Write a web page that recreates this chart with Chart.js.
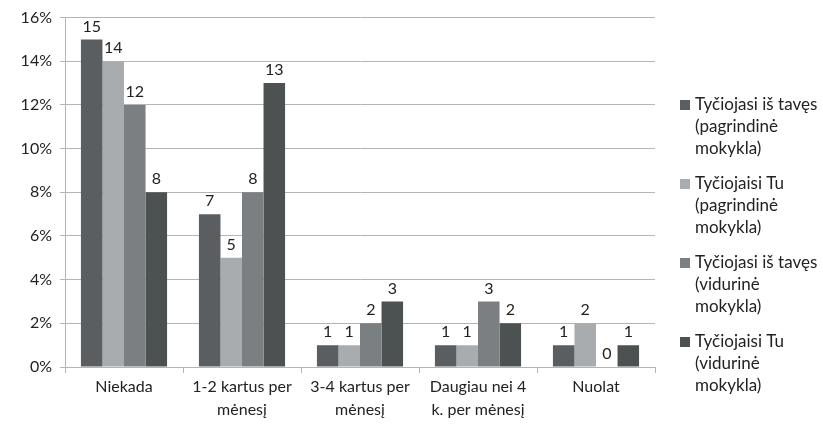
<!DOCTYPE html>
<html>
<head>
<meta charset="utf-8">
<script src="https://cdn.jsdelivr.net/npm/chart.js@4/dist/chart.umd.min.js"></script>
<style>
  html, body { margin: 0; padding: 0; background: #fff; }
  #wrap { width: 823px; height: 427px; position: relative; }
</style>
</head>
<body>
<div id="wrap"><canvas id="chart"></canvas></div>
<script>
const categories = [
    'Niekada',
    ['1-2 kartus per', 'mėnesį'],
    ['3-4 kartus per', 'mėnesį'],
    ['Daugiau nei 4', 'k. per mėnesį'],
    'Nuolat'
];
const seriesNames = [
    ['Tyčiojasi iš tavęs', '(pagrindinė', 'mokykla)'],
    ['Tyčiojaisi Tu', '(pagrindinė', 'mokykla)'],
    ['Tyčiojasi iš tavęs', '(vidurinė', 'mokykla)'],
    ['Tyčiojaisi Tu', '(vidurinė', 'mokykla)']
];
const bullyPrimary = [15, 7, 1, 1, 1];
const bullierPrimary = [14, 5, 1, 1, 2];
const bullySecondary = [12, 8, 2, 3, 0];
const bullierSecondary = [8, 13, 3, 2, 1];
const yTicks = [0, 2, 4, 6, 8, 10, 12, 14, 16];

const colors = ['#5a5e61', '#a9acae', '#7b7f82', '#4c5152'];
const FONT = 'Lato, "Open Sans", sans-serif';

const valueLabels = {
    id: 'valueLabels',
    afterDatasetsDraw(chart) {
        const ctx = chart.ctx;
        ctx.save();
        ctx.font = '16px ' + FONT;
        ctx.fillStyle = '#222';
        ctx.textAlign = 'center';
        ctx.textBaseline = 'bottom';
        chart.data.datasets.forEach((ds, i) => {
            chart.getDatasetMeta(i).data.forEach((bar, j) => {
                ctx.fillText(String(ds.data[j]), bar.x, bar.y - 5);
            });
        });
        ctx.restore();
    }
};

const sideLegend = {
    id: 'sideLegend',
    afterDraw(chart) {
        const ctx = chart.ctx;
        ctx.save();
        ctx.font = '17px ' + FONT;
        ctx.textBaseline = 'middle';
        ctx.textAlign = 'left';
        let y = 105;
        chart.data.datasets.forEach((ds, i) => {
            ctx.fillStyle = ds.backgroundColor;
            ctx.fillRect(680, y - 5, 10, 10);
            ctx.fillStyle = '#222';
            seriesNames[i].forEach((line, k) => {
                ctx.fillText(line, 695, y + k * 22);
            });
            y += 79;
        });
        ctx.restore();
    }
};

new Chart(document.getElementById('chart').getContext('2d'), {
    type: 'bar',
    data: {
        labels: categories,
        datasets: [bullyPrimary, bullierPrimary, bullySecondary, bullierSecondary].map((d, i) => ({
            label: seriesNames[i].join(' '),
            data: d,
            backgroundColor: colors[i],
            borderWidth: 0,
            categoryPercentage: 0.73,
            barPercentage: 1
        }))
    },
    options: {
        responsive: true,
        maintainAspectRatio: false,
        animation: false,
        layout: { padding: { top: 17, right: 168, left: 0, bottom: 0 } },
        scales: {
            x: {
                grid: { drawOnChartArea: false, color: '#b4b4b4', tickLength: 6, offset: true },
                border: { color: '#b4b4b4' },
                ticks: { color: '#222', font: { family: FONT, size: 16, lineHeight: 1.4 }, maxRotation: 0, autoSkip: false, padding: 3 },
                afterFit(scale) { scale.height = 60; }
            },
            y: {
                min: 0,
                max: 16,
                afterBuildTicks(scale) { scale.ticks = yTicks.map(v => ({ value: v })); },
                grid: { color: '#b4b4b4', tickLength: 5 },
                border: { color: '#b4b4b4' },
                ticks: {
                    color: '#222',
                    font: { family: FONT, size: 16 },
                    padding: 8,
                    callback: v => v + '%'
                },
                afterFit(scale) { scale.width = 65; }
            }
        },
        plugins: {
            legend: { display: false },
            tooltip: { enabled: false }
        }
    },
    plugins: [valueLabels, sideLegend]
});
</script>
</body>
</html>
